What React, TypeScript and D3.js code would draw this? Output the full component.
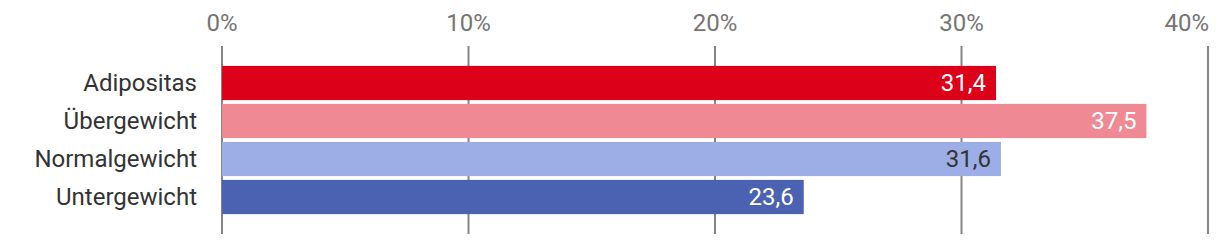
import React from "react";
import * as d3 from "d3";

const categories = ["Adipositas", "Übergewicht", "Normalgewicht", "Untergewicht"];
const values = [31.4, 37.5, 31.6, 23.6];
const barColors = ["#dc0019", "#ef8993", "#9caee5", "#4a62b1"];
const labelColors = ["#ffffff", "#ffffff", "#333333", "#ffffff"];
const ticks = [0, 10, 20, 30, 40];

const W = 1220;
const H = 244;
const FONT = "Roboto, sans-serif";

export default function App() {
  const x = d3.scaleLinear().domain([0, 40]).range([222, 1208]);
  const y = d3.scaleBand<string>().domain(categories).range([64, 216]).paddingInner(0.1).paddingOuter(0.05);
  const fmt = (v: number) => d3.format(".1f")(v).replace(".", ",");
  return (
    <svg width={W} height={H} style={{ position: "absolute", left: 0, top: 0, background: "#fff" }}>
      {ticks.map((t, i) => (
        <g key={t}>
          <line x1={x(t)} x2={x(t)} y1={46} y2={234} stroke="#858585" strokeWidth={2} />
          <text
            x={i === ticks.length - 1 ? x(t) + 1 : x(t)}
            y={30.5}
            textAnchor={i === ticks.length - 1 ? "end" : "middle"}
            fontFamily={FONT}
            fontSize={24}
            fill="#757575"
          >
            {t}%
          </text>
        </g>
      ))}
      {categories.map((c, i) => {
        const by = y(c)!;
        const bh = y.bandwidth();
        return (
          <g key={c}>
            <rect x={x(0)} y={by} width={x(values[i]) - x(0)} height={bh} fill={barColors[i]} />
            <text x={197} y={by + bh / 2} dy="0.35em" textAnchor="end" fontFamily={FONT} fontSize={24} fill="#333333">
              {c}
            </text>
            <text x={x(values[i]) - 10} y={by + bh / 2} dy="0.35em" textAnchor="end" fontFamily={FONT} fontSize={24} fill={labelColors[i]}>
              {fmt(values[i])}
            </text>
          </g>
        );
      })}
    </svg>
  );
}
